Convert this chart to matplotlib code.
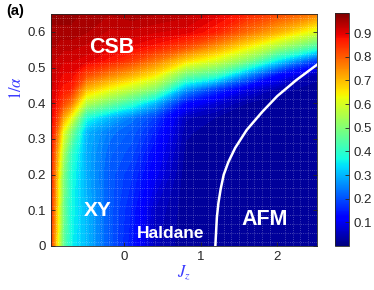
import numpy as np
import matplotlib
import matplotlib.pyplot as plt
from matplotlib.colors import Normalize
from matplotlib.cm import ScalarMappable

plt.rcParams['font.family'] = ['Liberation Sans', 'DejaVu Sans']
plt.rcParams['mathtext.fontset'] = 'stix'

# grid nodes (J_z, 1/alpha) and order parameter
jz = [-0.96, -0.9, -0.85, -0.8, -0.7, -0.5, -0.2, 0.1, 0.4, 0.8, 1.2, 1.6, 2.0, 2.52]
inv_alpha = [0.0, 0.1, 0.2, 0.26, 0.32, 0.36, 0.40, 0.44, 0.48, 0.52, 0.56, 0.60, 0.65]
# one row per J_z node, bottom -> top
order = [
    [0.83, 0.85, 0.86, 0.87, 0.88, 0.89, 0.90, 0.91, 0.92, 0.93, 0.94, 0.95, 0.96],
    [0.70, 0.72, 0.74, 0.76, 0.81, 0.85, 0.88, 0.90, 0.91, 0.92, 0.94, 0.95, 0.96],
    [0.58, 0.60, 0.62, 0.66, 0.72, 0.79, 0.85, 0.88, 0.90, 0.92, 0.93, 0.95, 0.96],
    [0.46, 0.48, 0.50, 0.55, 0.62, 0.72, 0.82, 0.87, 0.89, 0.91, 0.93, 0.95, 0.96],
    [0.36, 0.37, 0.38, 0.41, 0.50, 0.63, 0.77, 0.86, 0.89, 0.91, 0.93, 0.95, 0.96],
    [0.30, 0.30, 0.29, 0.29, 0.30, 0.38, 0.56, 0.70, 0.82, 0.90, 0.92, 0.94, 0.95],
    [0.21, 0.21, 0.21, 0.22, 0.24, 0.30, 0.48, 0.63, 0.76, 0.87, 0.90, 0.92, 0.94],
    [0.14, 0.15, 0.17, 0.19, 0.21, 0.24, 0.40, 0.57, 0.71, 0.83, 0.89, 0.92, 0.95],
    [0.05, 0.06, 0.10, 0.12, 0.15, 0.18, 0.30, 0.50, 0.65, 0.77, 0.87, 0.91, 0.94],
    [0.02, 0.02, 0.02, 0.025, 0.035, 0.05, 0.13, 0.28, 0.48, 0.67, 0.82, 0.90, 0.93],
    [0.02, 0.02, 0.02, 0.02, 0.02, 0.03, 0.07, 0.18, 0.42, 0.60, 0.74, 0.86, 0.90],
    [0.02, 0.02, 0.02, 0.02, 0.02, 0.02, 0.03, 0.09, 0.27, 0.50, 0.65, 0.78, 0.86],
    [0.02, 0.02, 0.02, 0.02, 0.02, 0.02, 0.02, 0.04, 0.13, 0.35, 0.55, 0.71, 0.82],
    [0.02, 0.02, 0.02, 0.02, 0.02, 0.02, 0.02, 0.02, 0.04, 0.18, 0.43, 0.60, 0.76],
]

# Haldane / AFM boundary
line_jz = [1.19, 1.20, 1.21, 1.23, 1.26, 1.30, 1.36, 1.45, 1.60, 1.80, 2.00, 2.25, 2.52]
line_ia = [0.0, 0.04, 0.08, 0.12, 0.16, 0.20, 0.235, 0.275, 0.325, 0.375, 0.42, 0.465, 0.508]

ytick_vals = [0, 0.1, 0.2, 0.3, 0.4, 0.5, 0.6]
xtick_vals = [0, 1, 2]
cbar_ticks = [0.1, 0.2, 0.3, 0.4, 0.5, 0.6, 0.7, 0.8, 0.9]

vmax = 0.985
dark = '#262626'
blue = '#3c3cff'

fig = plt.figure(figsize=(3.74, 2.90), dpi=100)
ax = fig.add_axes([51/374, 44/290, 266/374, 232/290])
cax = fig.add_axes([335/374, 44/290, 14/374, 233/290])

Z = np.array(order).T
levels = np.linspace(0, vmax, 65)
ax.contourf(jz, inv_alpha, Z, levels=levels, cmap='jet', vmin=0, vmax=vmax)

ax.plot(line_jz, line_ia, color='white', lw=1.8)

# faint dotted mesh like the original
ax.set_xticks(np.arange(-0.9, 2.5, 0.1), minor=True)
ax.set_yticks(np.arange(0.0125, 0.65, 0.025), minor=True)
ax.grid(which='minor', color='white', alpha=0.35, linestyle=':', lw=0.6)
ax.tick_params(which='minor', length=0)

ax.set_xlim(-0.96, 2.52)
ax.set_ylim(0, 0.65)
ax.set_xticks(xtick_vals)
ax.set_yticks(ytick_vals)
ax.set_yticklabels(['0', '0.1', '0.2', '0.3', '0.4', '0.5', '0.6'])
ax.tick_params(which='major', direction='in', length=3, width=0.6, colors=dark,
               labelsize=9.5, top=True, right=True)
for s in ax.spines.values():
    s.set_color(dark)
    s.set_linewidth(0.6)

ax.set_xlabel(r'$J_z$', color=blue, fontsize=12, labelpad=1)
ax.set_ylabel(r'$1/\alpha$', color=blue, fontsize=12)
ax.yaxis.set_label_coords(-0.1, 0.68)

txt = dict(color='white', fontweight='bold', ha='center', va='center')
ax.text(-0.16, 0.557, 'CSB', fontsize=15.5, **txt)
ax.text(-0.35, 0.10, 'XY', fontsize=15, **txt)
ax.text(0.6, 0.036, 'Haldane', fontsize=12.5, **txt)
ax.text(1.84, 0.073, 'AFM', fontsize=15.5, **txt)

sm = ScalarMappable(norm=Normalize(0, vmax), cmap='jet')
cb = fig.colorbar(sm, cax=cax, ticks=cbar_ticks)
cb.ax.set_yticklabels([str(t) for t in cbar_ticks])
cb.ax.tick_params(direction='in', length=3, width=0.6, colors=dark, labelsize=9.5)
cb.outline.set_edgecolor(dark)
cb.outline.set_linewidth(0.6)

fig.text(0.018, 0.962, '(a)', fontweight='bold', fontsize=10.5, va='center')

fig.savefig('out.png', dpi=100)
